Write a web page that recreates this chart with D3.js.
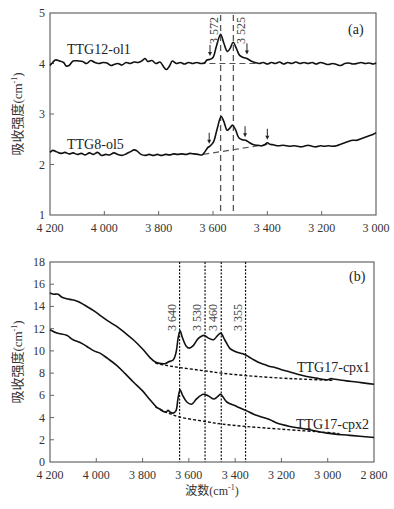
<!DOCTYPE html>
<html>
<head>
<meta charset="utf-8">
<script src="https://cdn.jsdelivr.net/npm/d3@7"></script>
<style>
  body { margin: 0; background: #fff; }
  svg { display: block; }
</style>
</head>
<body>
<svg id="chart" width="394" height="509" font-family="'Liberation Serif', 'Times New Roman', 'DejaVu Serif', 'Noto Sans CJK SC', serif"></svg>
<script>
// ---- data (wavenumber cm-1, absorbance cm-1) ----
var olTicksX = [4200, 4000, 3800, 3600, 3400, 3200, 3000];
var olTicksY = [1, 2, 3, 4, 5];
var cpxTicksX = [4200, 4000, 3800, 3600, 3400, 3200, 3000, 2800];
var cpxTicksY = [0, 2, 4, 6, 8, 10, 12, 14, 16, 18];

var ttg12ol1 = [[4200,3.96],[4190,4.02],[4180,4.07],[4165,4.05],[4150,4.02],[4140,3.95],[4130,3.96],[4115,4.05],
  [4095,4.05],[4080,4.04],[4065,4.0],[4050,4.06],[4035,4.02],[4020,4.0],[4005,4.02],[3990,4.01],[3975,3.96],
  [3965,3.98],[3950,4.0],[3935,3.97],[3920,4.02],[3905,4.0],[3890,4.03],[3875,4.02],[3860,4.06],[3850,4.1],
  [3840,4.04],[3825,4.06],[3810,4.0],[3795,4.03],[3780,3.92],[3772,3.88],[3760,3.95],[3750,4.05],[3735,4.0],
  [3720,4.02],[3705,3.99],[3690,4.02],[3675,4.0],[3660,4.02],[3645,4.0],[3632,4.01],[3622,4.07],[3612,4.08],
  [3600,4.12],[3588,4.33],[3572,4.58],[3560,4.4],[3547,4.24],[3537,4.3],[3526,4.42],[3514,4.3],[3502,4.16],
  [3488,4.12],[3475,4.1],[3460,4.05],[3445,4.02],[3430,4.0],[3415,4.02],[3400,3.99],[3385,4.02],[3370,4.0],
  [3355,4.03],[3340,3.99],[3325,4.02],[3310,4.0],[3295,4.03],[3280,4.0],[3265,4.02],[3250,4.0],[3235,4.02],
  [3220,3.99],[3205,4.02],[3190,4.0],[3175,3.98],[3160,4.0],[3145,3.98],[3130,3.96],[3115,4.0],[3100,4.01],
  [3085,3.99],[3070,4.0],[3055,4.02],[3040,4.0],[3025,4.01],[3010,3.99],[3000,4.01]];

var ttg8ol5 = [[4200,2.24],[4190,2.28],[4175,2.25],[4160,2.22],[4145,2.24],[4130,2.21],[4115,2.23],[4100,2.2],
  [4085,2.22],[4070,2.19],[4055,2.23],[4040,2.2],[4025,2.24],[4010,2.18],[3995,2.2],[3980,2.19],[3965,2.23],
  [3950,2.2],[3935,2.18],[3920,2.21],[3905,2.25],[3890,2.29],[3880,2.27],[3865,2.2],[3850,2.18],[3835,2.2],
  [3820,2.18],[3805,2.2],[3790,2.18],[3775,2.2],[3760,2.19],[3745,2.21],[3730,2.2],[3715,2.21],[3700,2.2],
  [3685,2.22],[3670,2.21],[3655,2.2],[3640,2.19],[3630,2.25],[3620,2.33],[3610,2.37],[3598,2.45],[3585,2.7],
  [3570,2.95],[3560,2.85],[3548,2.68],[3538,2.72],[3528,2.78],[3518,2.7],[3505,2.53],[3492,2.49],[3480,2.48],
  [3465,2.43],[3450,2.39],[3435,2.38],[3420,2.37],[3410,2.39],[3400,2.43],[3390,2.4],[3378,2.39],[3360,2.37],
  [3340,2.38],[3320,2.36],[3300,2.37],[3280,2.35],[3265,2.36],[3250,2.38],[3235,2.36],[3220,2.35],[3205,2.37],
  [3190,2.36],[3175,2.37],[3160,2.36],[3145,2.37],[3130,2.4],[3115,2.43],[3100,2.46],[3085,2.48],[3070,2.48],
  [3055,2.51],[3040,2.54],[3025,2.57],[3010,2.6],[3000,2.63]];

var ol1Base = [[3650,4.0],[3430,4.0]];
var ol5Base = [[3636,2.2],[3400,2.4]];
var olPeaks = [3572, 3525];
var olPeakLabels = ["3 572", "3 525"];
// arrows: [wavenumber, value at tip]
var olArrows = [[3611,4.15],[3475,4.18],[3614,2.41],[3482,2.54],[3400,2.49]];

var cpx1 = [[4200,15.2],[4185,15.1],[4165,15.1],[4150,14.85],[4128,14.7],[4105,14.6],[4085,14.5],[4065,14.3],
  [4041,14.0],[4010,13.6],[3984,13.2],[3950,12.7],[3912,12.2],[3875,11.6],[3840,11.0],[3797,10.1],[3768,9.4],
  [3745,9.0],[3732,8.9],[3703,8.85],[3689,9.0],[3667,9.2],[3655,9.9],[3646,11.2],[3638,11.8],[3628,11.2],[3612,10.45],
  [3598,10.25],[3580,10.5],[3560,11.1],[3535,11.4],[3515,11.15],[3494,11.0],[3475,11.4],[3462,11.6],[3445,11.0],
  [3422,10.2],[3400,9.95],[3380,9.8],[3362,9.7],[3343,9.5],[3320,9.2],[3292,8.9],[3270,8.75],[3249,8.6],
  [3235,8.55],[3200,8.3],[3163,8.1],[3130,7.9],[3091,7.7],[3050,7.55],[3004,7.4],[2985,7.5],[2970,7.45],
  [2920,7.3],[2875,7.2],[2840,7.1],[2800,7.0]];

var cpx2 = [[4200,11.9],[4170,11.6],[4128,11.4],[4100,11.0],[4070,10.75],[4041,10.4],[4010,10.0],[3984,9.8],
  [3950,9.3],[3912,8.7],[3875,7.95],[3840,7.2],[3800,6.4],[3768,5.6],[3740,4.95],[3725,4.75],[3710,4.55],
  [3698,4.5],[3690,4.65],[3682,4.5],[3668,4.4],[3656,4.6],[3647,5.7],[3638,6.5],[3627,6.0],[3609,5.4],
  [3588,5.2],[3566,5.7],[3537,6.1],[3516,5.95],[3491,5.67],[3475,5.9],[3463,6.1],[3436,5.4],[3393,5.0],
  [3350,4.6],[3320,4.3],[3292,4.1],[3249,3.8],[3220,3.5],[3163,3.2],[3091,2.95],[3004,2.6],[2904,2.4],[2800,2.2]];

var cpx1Base = [[3745,8.9],[3700,8.7],[3640,8.5],[3530,8.2],[3460,8.0],[3355,7.78],[3200,7.55],[3100,7.45],[2980,7.35]];
var cpx2Base = [[3745,4.95],[3700,4.5],[3640,4.05],[3530,3.65],[3460,3.42],[3355,3.2],[3200,2.95],[3000,2.65],[2950,2.55]];
var cpxPeaks = [3640, 3530, 3460, 3355];
var cpxPeakLabels = ["3 640", "3 530", "3 460", "3 355"];

var svg = d3.select("#chart");

function fmt(n) {
  var s = String(n);
  return s.length > 3 ? s.slice(0, s.length - 3) + " " + s.slice(-3) : s;
}

function unitTitle(g, label, size) {
  // label + (cm^-1)
  var t = g.append("text").attr("font-size", size).attr("fill", "#333");
  t.append("tspan").text(label + "(cm");
  t.append("tspan").attr("font-size", 8).attr("dy", -5).text("-1");
  t.append("tspan").attr("dy", 5).text(")");
  return t;
}

function drawFrame(x, y, ticksX, ticksY, top, bottom, left, right) {
  var g = svg.append("g");
  // ticks inside
  g.selectAll(".tx").data(ticksX.slice(1, -1)).enter().append("line")
    .attr("x1", d => x(d)).attr("x2", d => x(d))
    .attr("y1", bottom).attr("y2", bottom - 4)
    .attr("stroke", "#666").attr("stroke-width", 1);
  g.selectAll(".ty").data(ticksY.slice(1, -1)).enter().append("line")
    .attr("x1", left).attr("x2", left + 4)
    .attr("y1", d => y(d)).attr("y2", d => y(d))
    .attr("stroke", "#666").attr("stroke-width", 1);
  g.append("rect")
    .attr("x", left).attr("y", top)
    .attr("width", right - left).attr("height", bottom - top)
    .attr("fill", "none").attr("stroke", "#666").attr("stroke-width", 1.2);
  g.selectAll(".lx").data(ticksX).enter().append("text")
    .attr("x", d => x(d)).attr("y", bottom + 17)
    .attr("text-anchor", "middle").attr("font-size", 12).attr("fill", "#333")
    .text(d => fmt(d));
  g.selectAll(".ly").data(ticksY).enter().append("text")
    .attr("x", left - 5).attr("y", d => y(d) + 4)
    .attr("text-anchor", "end").attr("font-size", 12).attr("fill", "#333")
    .text(d => d);
  var yt = unitTitle(svg.append("g").attr("transform",
    "translate(22," + ((top + bottom) / 2) + ") rotate(-90)"), "吸收强度", 13);
  yt.attr("text-anchor", "middle");
}

function arrow(g, px, py) {
  g.append("line").attr("x1", px).attr("x2", px).attr("y1", py - 11).attr("y2", py - 3)
    .attr("stroke", "#222").attr("stroke-width", 1);
  g.append("path").attr("d", "M" + (px - 2) + "," + (py - 4) + "L" + (px + 2) + "," + (py - 4) + "L" + px + "," + py + "Z")
    .attr("fill", "#222");
}

// ---------- panel (a) ----------
var aL = 50, aR = 376, aT = 13, aB = 215;
var xa = d3.scaleLinear().domain([4200, 3000]).range([aL, aR]);
var ya = d3.scaleLinear().domain([1, 5]).range([aB, aT]);
var lineA = d3.line().x(d => xa(d[0])).y(d => ya(d[1])).curve(d3.curveCatmullRom);

drawFrame(xa, ya, olTicksX, olTicksY, aT, aB, aL, aR);

var ga = svg.append("g");
ga.selectAll(".vp").data(olPeaks).enter().append("line")
  .attr("x1", d => xa(d)).attr("x2", d => xa(d))
  .attr("y1", aT + 2).attr("y2", aB)
  .attr("stroke", "#555").attr("stroke-width", 1.3).attr("stroke-dasharray", "6,4");
[ol1Base, ol5Base].forEach(function (b) {
  ga.append("path").datum(b).attr("d", d3.line().x(d => xa(d[0])).y(d => ya(d[1])))
    .attr("fill", "none").attr("stroke", "#555").attr("stroke-width", 1.2).attr("stroke-dasharray", "6,4");
});
[ttg12ol1, ttg8ol5].forEach(function (s) {
  ga.append("path").datum(s).attr("d", lineA)
    .attr("fill", "none").attr("stroke", "#111").attr("stroke-width", 1.6);
});
olArrows.forEach(function (a) { arrow(ga, xa(a[0]), ya(a[1])); });

olPeaks.forEach(function (p, i) {
  var px = i === 0 ? xa(p) - 3 : xa(p) + 12;
  ga.append("text").attr("transform", "translate(" + px + ",44) rotate(-90)")
    .attr("font-size", 12).attr("fill", "#444").text(olPeakLabels[i]);
});
ga.append("text").attr("x", 67).attr("y", 54).attr("font-size", 14).attr("fill", "#222").text("TTG12-ol1");
ga.append("text").attr("x", 67).attr("y", 149).attr("font-size", 14).attr("fill", "#222").text("TTG8-ol5");
ga.append("text").attr("x", 348).attr("y", 34).attr("font-size", 14).attr("fill", "#222").text("(a)");

// ---------- panel (b) ----------
var bL = 50, bR = 374, bT = 262, bB = 462;
var xb = d3.scaleLinear().domain([4200, 2800]).range([bL, bR]);
var yb = d3.scaleLinear().domain([0, 18]).range([bB, bT]);
var lineB = d3.line().x(d => xb(d[0])).y(d => yb(d[1])).curve(d3.curveCatmullRom);

drawFrame(xb, yb, cpxTicksX, cpxTicksY, bT, bB, bL, bR);

var gb = svg.append("g");
gb.selectAll(".vp").data(cpxPeaks).enter().append("line")
  .attr("x1", d => xb(d)).attr("x2", d => xb(d))
  .attr("y1", bT).attr("y2", bB)
  .attr("stroke", "#111").attr("stroke-width", 1.2).attr("stroke-dasharray", "2,1.5");
[cpx1Base, cpx2Base].forEach(function (b) {
  gb.append("path").datum(b).attr("d", lineB)
    .attr("fill", "none").attr("stroke", "#111").attr("stroke-width", 1.4).attr("stroke-dasharray", "3,2");
});
[cpx1, cpx2].forEach(function (s) {
  gb.append("path").datum(s).attr("d", lineB)
    .attr("fill", "none").attr("stroke", "#111").attr("stroke-width", 1.6);
});
cpxPeaks.forEach(function (p, i) {
  gb.append("text").attr("transform", "translate(" + (xb(p) - 4) + ",331) rotate(-90)")
    .attr("font-size", 12).attr("fill", "#444").text(cpxPeakLabels[i]);
});
gb.append("text").attr("x", 297).attr("y", 372).attr("font-size", 14).attr("fill", "#222").text("TTG17-cpx1");
gb.append("text").attr("x", 296).attr("y", 429).attr("font-size", 14).attr("fill", "#222").text("TTG17-cpx2");
gb.append("text").attr("x", 349).attr("y", 281).attr("font-size", 14).attr("fill", "#222").text("(b)");

var xt = unitTitle(svg.append("g").attr("transform", "translate(" + ((bL + bR) / 2) + ",495)"), "波数", 12);
xt.attr("text-anchor", "middle");
</script>
</body>
</html>
